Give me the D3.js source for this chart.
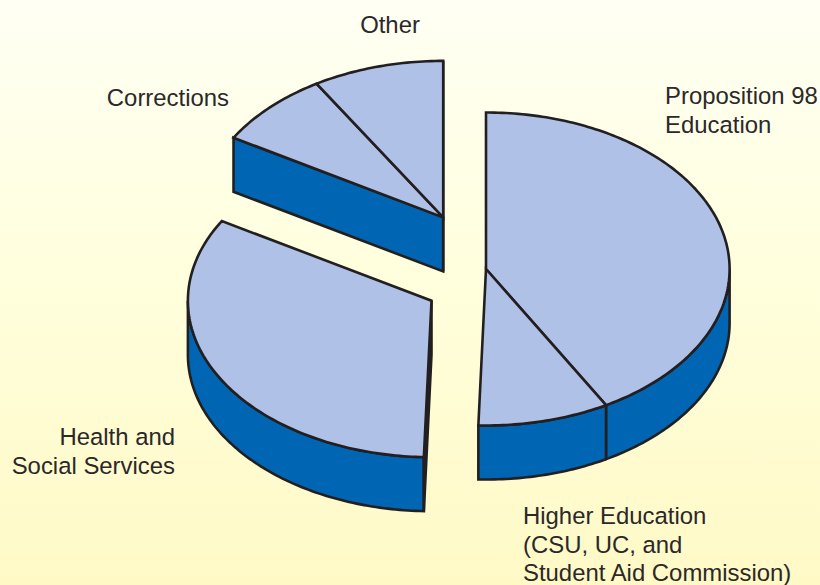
<!DOCTYPE html>
<html><head><meta charset="utf-8">
<script src="https://d3js.org/d3.v7.min.js"></script>
<style>html,body{margin:0;padding:0;background:#fff}svg{display:block}</style>
</head><body>
<svg id="c" width="820" height="585"></svg>
<script>
const categories = ["Proposition 98 Education","Higher Education","Health and Social Services","Corrections","Other"];
const shares = [41.8, 8.7, 33.0, 7.8, 8.7];
const groups = [0, 0, 1, 2, 2];
const centers = [[486,269],[431.5,300.7],[443.2,217.4]];
const labels = [
  {lines:["Proposition 98","Education"],x:665,y:104,a:"start"},
  {lines:["Higher Education","(CSU, UC, and","Student Aid Commission)"],x:523,y:524,a:"start"},
  {lines:["Health and","Social Services"],x:175,y:445,a:"end"},
  {lines:["Corrections"],x:229,y:106,a:"end"},
  {lines:["Other"],x:390,y:33,a:"middle"}
];
const rx=243.6, ry=156.5, depth=54;
const TOP="#AFC1E6", SIDE="#0066B3", INK="#231F20";
const svg=d3.select("#c");
const defs=svg.append("defs");
const g=defs.append("linearGradient").attr("id","bg").attr("x1",0).attr("y1",0).attr("x2",0).attr("y2",1);
[[0,"#FFFFF4"],[0.45,"#FFFFDE"],[1,"#FFF9C6"]].forEach(s=>g.append("stop").attr("offset",s[0]).attr("stop-color",s[1]));
svg.append("rect").attr("width",820).attr("height",585).attr("fill","url(#bg)");

const arcs=d3.pie().sort(null).value(d=>d)(shares);
const px=(c,t,dy=0)=>[c[0]+rx*Math.sin(t),c[1]-ry*Math.cos(t)+dy];
const line=d3.line();
const sample=(c,a,b,dy=0)=>{const n=Math.max(2,Math.ceil(Math.abs(b-a)*60));return d3.range(n+1).map(i=>px(c,a+(b-a)*i/n,dy));};

const layer=svg.append("g").attr("stroke",INK).attr("stroke-width",2.6).attr("stroke-linejoin","miter");
const wall=(c,t)=>{
  const p=px(c,t);
  layer.append("path").attr("d",line([c,p,[p[0],p[1]+depth],[c[0],c[1]+depth]])+"Z").attr("fill",SIDE);
};
// cut faces of the exploded upper group
wall(centers[2],arcs[3].startAngle);
wall(centers[2],arcs[4].endAngle);
// outer rims: the part of each arc facing the viewer
arcs.forEach((d,i)=>{
  const c=centers[groups[i]];
  const lo=Math.max(d.startAngle,Math.PI/2),hi=Math.min(d.endAngle,3*Math.PI/2);
  if(hi>lo){
    const top=sample(c,lo,hi),bot=sample(c,lo,hi,depth).reverse();
    layer.append("path").attr("d",line(top.concat(bot))+"Z").attr("fill",SIDE);
  }
});
// sliver of the health group's cut face
wall(centers[1],arcs[2].startAngle);
// top faces
arcs.forEach((d,i)=>{
  const c=centers[groups[i]];
  layer.append("path").attr("d",line([c].concat(sample(c,d.startAngle,d.endAngle)))+"Z").attr("fill",TOP);
});

const tg=svg.append("g").attr("font-family","Liberation Sans, Arial, sans-serif").attr("font-size",23.9).attr("fill","#2B2829");
labels.forEach(l=>{
  l.lines.forEach((s,j)=>tg.append("text").attr("x",l.x).attr("y",l.y+j*28.5).attr("text-anchor",l.a).text(s));
});
</script>
</body></html>
